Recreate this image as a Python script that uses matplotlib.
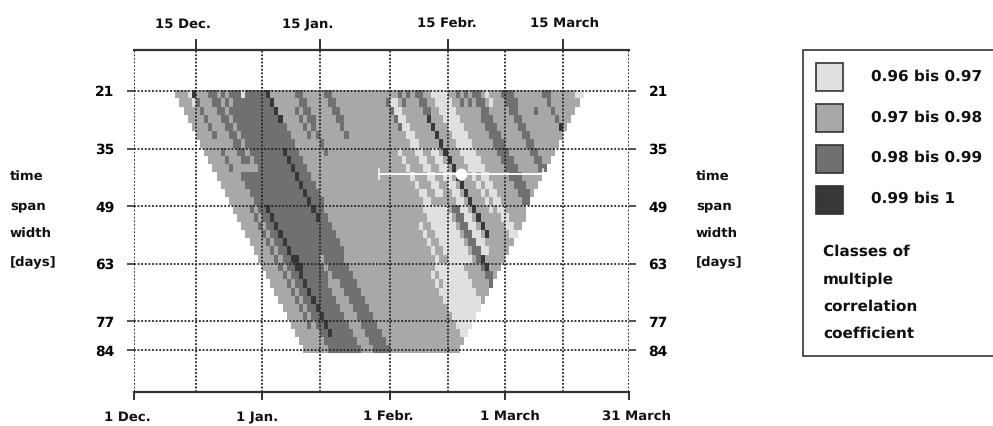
import numpy as np
import matplotlib
matplotlib.use("Agg")
import matplotlib.pyplot as plt
from matplotlib.patches import Rectangle

plt.rcParams['font.family'] = ['DejaVu Sans']
plt.rcParams['text.hinting'] = 'no_hinting'

# ---------------- DATA ----------------
# classes of multiple correlation coefficient
class_labels = ["0.96 bis 0.97", "0.97 bis 0.98", "0.98 bis 0.99", "0.99 bis 1"]
class_colors = ["#e0e0e0", "#a8a8a8", "#707070", "#383838"]

spans = list(range(21, 85, 2))
span_ticks = [21, 35, 49, 63, 77, 84]

top_tick_days = [15, 45, 76, 104]
top_tick_labels = ["15 Dec.", "15 Jan.", "15 Febr.", "15 March"]
bottom_tick_days = [0, 31, 62, 90, 120]
bottom_tick_labels = ["1 Dec.", "1 Jan.", "1 Febr.", "1 March", "31 March"]

# cells: first start day, last start day, first span, last span, class
# (start day = days after 1 Dec. where the window begins, the stripes run along it)
stripes_left = [
    (3, 3, 21, 23, 0), (4, 4, 21, 31, 2), (4, 4, 35, 39, 2), (4, 4, 48, 78, 2),
    (4, 4, 21, 22, 3), (8, 9, 21, 37, 2), (6, 13, 40, 84, 2), (11, 22, 21, 48, 2),
    (14, 21, 48, 59, 2), (14, 14, 60, 66, 2), (16, 20, 60, 66, 2), (17, 20, 66, 84, 2),
    (12, 12, 21, 23, 1), (16, 16, 21, 21, 0), (22, 22, 21, 27, 3), (19, 19, 35, 51, 3),
    (8, 8, 48, 80, 3), (9, 9, 60, 63, 3), (29, 29, 21, 35, 2), (30, 30, 21, 27, 2),
    (27, 27, 25, 32, 2), (36, 36, 21, 31, 2), (37, 37, 21, 27, 2),
]
stripes_middle = [
    (50, 50, 22, 29, 2), (51, 52, 22, 45, 0), (54, 54, 21, 23, 2), (56, 56, 21, 22, 2),
    (58, 59, 21, 25, 2), (47, 47, 35, 50, 0), (48, 48, 45, 50, 0), (46, 51, 48, 61, 0),
    (43, 43, 52, 63, 0), (55, 56, 35, 60, 0), (62, 65, 21, 40, 0), (62, 62, 41, 50, 0),
    (64, 65, 41, 58, 0), (58, 58, 26, 55, 3), (53, 54, 49, 67, 2), (54, 54, 60, 64, 3),
    (42, 50, 62, 84, 0), (40, 50, 70, 84, 0), (40, 41, 65, 70, 0), (41, 41, 65, 68, 1),
    (49, 52, 62, 72, 1),
]
stripes_right = [
    (68, 68, 21, 24, 2), (70, 70, 21, 24, 2), (72, 73, 21, 35, 2), (71, 73, 26, 49, 2),
    (75, 75, 21, 24, 0), (79, 80, 21, 42, 2),
    (81, 81, 21, 24, 2), (85, 85, 24, 25, 2), (89, 89, 21, 31, 2), (90, 90, 21, 22, 2),
    (89, 89, 29, 31, 3), (98, 98, 21, 23, 0), (97, 97, 21, 21, 0),
]

# optimum window with its range
opt_day, opt_low, opt_high, opt_span = 79.3, 59.4, 99.2, 41.2

# ---------------- GRID OF CELLS ----------------
grid = {}
for span in spans:
    last = int(119 - 0.98 * span)
    for s in range(0, last + 1):
        grid[(s, span)] = 1

for s0, s1, a, b, cls in stripes_left + stripes_middle + stripes_right:
    for s in range(s0, s1 + 1):
        for span in range(a, b + 1):
            if (s, span) in grid:
                grid[(s, span)] = cls

W, H = 993, 426
fig = plt.figure(figsize=(W / 100, H / 100), dpi=100)
ax = fig.add_axes([134 / W, 1 - 392 / H, 495 / W, 342 / H])
ax.set_xlim(0, 120)
ax.set_ylim(94.2, 11.03)

cell_left = [s + span / 2 - 0.5 for s, span in grid]
cell_span = [span + 0.8 for s, span in grid]
cell_color = [class_colors[c] for c in grid.values()]
ax.barh(cell_span, [1.02] * len(grid), height=2.02, left=cell_left, color=cell_color,
        linewidth=0, antialiased=False, zorder=1)

# ---------------- GRID LINES AND AXES ----------------
dots = dict(color="#222222", linewidth=1.3, linestyle=(0, (1, 1)), zorder=2)
for d in top_tick_days + bottom_tick_days:
    ax.axvline(d, **dots)
for span in span_ticks:
    ax.axhline(span, **dots)

for side in ["left", "right"]:
    ax.spines[side].set_visible(False)
for side in ["top", "bottom"]:
    ax.spines[side].set_linewidth(1.6)
    ax.spines[side].set_color("#333333")

ax.set_xticks(bottom_tick_days, [""] * len(bottom_tick_days))
ax.set_yticks(span_ticks, [str(v) for v in span_ticks], fontsize=10, fontweight="bold")
ax.tick_params(axis="x", length=6, width=1.3, color="#222222")
ax.tick_params(axis="y", length=5, width=1.1, pad=9, left=True, right=True,
               labelleft=True, labelright=True, color="#222222")

top = ax.secondary_xaxis("top")
top.set_xticks(top_tick_days, [""] * len(top_tick_days))
top.tick_params(length=8, width=1.3, color="#222222")
top.spines["top"].set_visible(False)

# optimum marker
ax.plot([opt_low, opt_high], [opt_span, opt_span], color="white", linewidth=1.3, zorder=3)
for d in [opt_low, opt_high]:
    ax.plot([d, d], [opt_span - 1.2, opt_span + 1.2], color="white", linewidth=1.1, zorder=3)
ax.plot(opt_day, opt_span, "o", color="white", markersize=8.5, markeredgewidth=0, zorder=4)


# ---------------- TEXT AND LEGEND (pixel positions) ----------------
def px_text(x, y, s, size=9.5, ha="left"):
    fig.text(x / W, 1 - (y + 4) / H, s, fontsize=size, fontweight="bold", va="baseline", ha=ha,
             color="#111111", rotation_mode="anchor")


def px_rect(x, y, w, h, face, edge, lw):
    fig.add_artist(Rectangle((x / W, 1 - (y + h) / H), w / W, h / H, transform=fig.transFigure,
                             facecolor=face, edgecolor=edge, linewidth=lw))


for x, s in zip([183, 308, 447, 565], top_tick_labels):
    px_text(x, 24, s, ha="center")
for x, s in zip([127, 257, 388, 510, 637], bottom_tick_labels):
    px_text(x, 417, s, ha="center")

for x in [10, 696]:
    for y, s in zip([177, 205, 234, 262], ["time", "span", "width", "[days]"]):
        px_text(x, y, s)

px_rect(803, 50, 200, 306, "white", "#333333", 1.2)
for y, y_text, color, label in zip([63, 104, 145, 186], [77, 118, 158, 199], class_colors, class_labels):
    px_rect(816, y, 27, 28, color, "#333333", 1.2)
    px_text(871, y_text, label, size=11)
for y, s in zip([252, 280, 307, 334], ["Classes of", "multiple", "correlation", "coefficient"]):
    px_text(823, y, s, size=11)

fig.savefig("out.png", dpi=100)
